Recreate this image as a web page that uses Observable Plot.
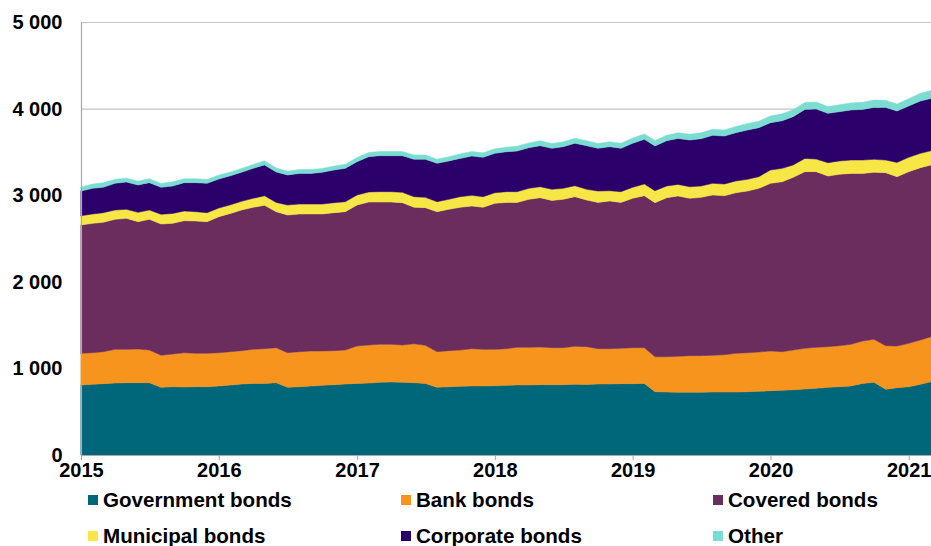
<!DOCTYPE html>
<html>
<head>
<meta charset="utf-8">
<script src="https://cdn.jsdelivr.net/npm/d3@7"></script>
<script src="https://cdn.jsdelivr.net/npm/@observablehq/plot@0.6"></script>
<style>
  html, body { margin: 0; padding: 0; background: #fff; }
  #wrap { position: relative; width: 931px; height: 546px; font-family: "Liberation Sans", Arial, sans-serif; }
  #legend { position: absolute; left: 0; top: 480px; width: 931px; height: 66px; }
  .item { position: absolute; font-weight: bold; font-size: 20.6px; line-height: 22px; color: #000; white-space: nowrap; }
  .sw { position: absolute; left: 0; top: 6px; width: 10px; height: 10px; }
  .lbl { position: absolute; left: 15px; top: 0; }
</style>
</head>
<body>
<div id="wrap"><div id="chart"></div><div id="legend"></div></div>
<script>
const seriesNames = ["Government bonds", "Bank bonds", "Covered bonds", "Municipal bonds", "Corporate bonds", "Other"];
const colors = ["#00677A", "#F7941E", "#6B2C5E", "#F6E646", "#2B006B", "#7BDCD2"];

// Monthly, Jan 2015 – Mar 2021
const government = [808,816,824,831,835,835,835,781,789,785,789,789,
  797,808,820,827,827,835,781,789,797,804,812,820,
  827,831,839,843,839,835,827,781,789,793,797,797,
  800,804,808,808,812,812,812,816,814,820,820,824,
  824,827,731,727,724,724,724,727,727,727,731,735,
  743,747,754,762,770,781,789,797,827,839,758,777,
  789,816,847];
const bank = [366,365,369,389,385,389,377,370,377,396,385,385,
  384,385,385,393,401,404,400,404,404,397,393,392,
  432,439,439,435,431,450,439,412,416,419,431,423,
  420,424,435,435,435,427,427,439,437,408,408,408,
  415,412,404,408,415,423,423,424,431,447,450,454,
  458,446,458,470,473,470,473,481,489,497,504,481,
  500,512,519];
const covered = [1482,1494,1494,1501,1513,1470,1509,1516,1509,1525,1528,1520,
  1571,1597,1624,1640,1655,1570,1590,1590,1582,1582,1593,1598,
  1628,1651,1643,1643,1644,1575,1590,1617,1632,1648,1647,1640,
  1686,1689,1674,1709,1724,1701,1713,1728,1693,1689,1705,1685,
  1725,1755,1779,1836,1852,1817,1828,1851,1836,1855,1867,1890,
  1936,1963,1994,2040,2029,1970,1979,1974,1936,1928,1998,1956,
  1983,1990,1983];
const municipal = [107,108,111,108,104,108,108,112,115,111,108,104,
  100,100,100,104,111,108,116,115,115,115,116,115,
  115,116,120,120,119,123,119,115,115,123,123,123,
  123,124,124,127,127,128,127,127,124,131,119,124,
  127,135,138,135,134,134,131,135,135,135,135,135,
  154,154,143,153,145,154,154,154,154,150,146,165,
  165,165,165];
const corporate = [285,296,293,308,315,316,316,312,316,328,335,339,
  335,334,335,346,355,350,346,354,354,366,377,385,
  385,408,415,415,423,431,439,443,443,442,454,454,
  454,461,469,470,474,473,481,489,504,493,508,500,
  508,516,516,524,531,539,547,554,554,558,570,566,
  546,550,558,566,578,570,569,578,585,600,608,593,
  593,605,604];
const other = [48,50,52,48,45,45,45,45,48,45,45,45,
  45,45,45,45,48,48,45,45,45,45,45,48,
  48,48,48,48,48,50,50,48,50,52,52,52,
  52,52,55,55,58,55,58,58,58,55,58,60,
  62,62,65,62,65,68,68,70,70,72,75,75,
  78,80,80,80,80,78,80,82,82,85,82,80,
  85,88,90];

const yTicks = [0, 1000, 2000, 3000, 4000, 5000];
const xTickYears = [2015, 2016, 2017, 2018, 2019, 2020, 2021];

const months = d3.utcMonth.range(new Date(Date.UTC(2015, 0, 1)), new Date(Date.UTC(2021, 2, 2)));
const seriesValues = [government, bank, covered, municipal, corporate, other];
const table = seriesNames.flatMap((s, k) => seriesValues[k].map((v, i) => ({date: months[i], series: s, value: v})));
const xTicks = xTickYears.map(y => new Date(Date.UTC(y, 0, 1)));
const fmt = v => d3.format(",")(v).replace(/,/g, " ");

const chart = Plot.plot({
  width: 931,
  height: 480,
  marginLeft: 81,
  marginRight: 0,
  marginTop: 22,
  marginBottom: 25,
  style: {fontFamily: "'Liberation Sans', Arial, sans-serif", fontSize: "20px", fontWeight: "bold", color: "#000", background: "#fff", overflow: "visible"},
  x: {type: "utc", domain: [months[0], months[months.length - 1]]},
  y: {domain: [0, 5000]},
  color: {domain: seriesNames, range: colors},
  marks: [
    Plot.gridY(yTicks, {stroke: "#c4c4c4", strokeOpacity: 1, strokeWidth: 1.2}),
    Plot.areaY(table, {x: "date", y: "value", fill: "series", z: "series", stroke: "series", strokeWidth: 0.5}),
    Plot.ruleX([months[0]], {stroke: "#a8a8a8", strokeWidth: 1.2}),
    Plot.ruleY([0], {stroke: "#a8a8a8", strokeWidth: 1.2}),
    Plot.axisY(yTicks, {label: null, tickSize: 0, tickPadding: 19, tickFormat: fmt, fontWeight: "bold", fontSize: 20}),
    Plot.axisX(xTicks, {label: null, tickSize: 5, tickPadding: 2, tickFormat: d3.utcFormat("%Y"), stroke: "#a8a8a8", fontWeight: "bold", fontSize: 20, fill: "#000"})
  ]
});
document.getElementById("chart").appendChild(chart);

const legend = document.getElementById("legend");
const legendX = [88, 401, 713];
const legendY = [9, 45];
seriesNames.forEach((s, k) => {
  const item = document.createElement("div");
  item.className = "item";
  item.style.left = legendX[k % 3] + "px";
  item.style.top = legendY[Math.floor(k / 3)] + "px";
  const sw = document.createElement("span");
  sw.className = "sw";
  sw.style.background = colors[k];
  const lbl = document.createElement("span");
  lbl.className = "lbl";
  lbl.textContent = s;
  item.appendChild(sw);
  item.appendChild(lbl);
  legend.appendChild(item);
});
</script>
</body>
</html>
